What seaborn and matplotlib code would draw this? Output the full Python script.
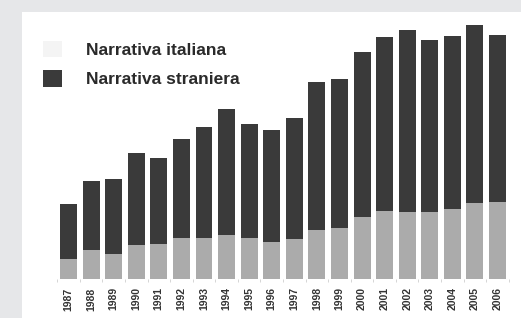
import pandas as pd
import matplotlib.pyplot as plt
import seaborn as sns
from matplotlib.patches import Patch
from matplotlib.ticker import FixedLocator

# Data (arbitrary units, y axis is hidden)
years = [str(y) for y in range(1987, 2007)]
italiana = [20, 29, 25, 34, 35, 41, 41, 44, 41, 37,
            40, 49, 51, 62, 68, 67, 67, 70, 76, 77]
straniera = [55, 69, 75, 92, 86, 99, 111, 126, 114, 112,
             121, 148, 149, 165, 174, 182, 172, 173, 178, 167]

totale = [a + b for a, b in zip(italiana, straniera)]
df = pd.DataFrame({"anno": years, "italiana": italiana, "totale": totale})

dark = "#3a3a3a"
light = "#ababab"

sns.set_theme(style="white")
plt.rcParams["font.family"] = ["Liberation Sans", "DejaVu Sans"]

fig = plt.figure(figsize=(5.21, 3.18), dpi=100)
fig.patch.set_facecolor("#e6e7e9")
ax = fig.add_axes([22 / 521, 0, 499 / 521, 306 / 318])
ax.set_facecolor("white")

# Total bar (dark) with the Italian share drawn over it (light)
sns.barplot(data=df, x="anno", y="totale", color=dark, width=0.75,
            linewidth=0, saturation=1, ax=ax)
sns.barplot(data=df, x="anno", y="italiana", color=light, width=0.75,
            linewidth=0, saturation=1, ax=ax)

ax.set_xlim(-2.06, 20.04)
ax.set_ylim(-39, 267)
ax.set_xlabel("")
ax.set_ylabel("")
ax.set_yticks([])
for s in ax.spines.values():
    s.set_visible(False)
ax.spines["bottom"].set_position(("data", 0))

ax.tick_params(axis="x", which="major", length=0, pad=6)
ax.xaxis.set_minor_locator(FixedLocator([i + 0.5 for i in range(-1, 20)]))
ax.tick_params(axis="x", which="minor", bottom=True, length=2, width=0.6,
               color="#cfcfcf")
for lab in ax.get_xticklabels():
    lab.set_rotation(90)
    lab.set_fontsize(7.5)
    lab.set_fontweight("bold")
    lab.set_color("#333333")

handles = [Patch(facecolor="#f4f4f4", edgecolor="none", label="Narrativa italiana"),
           Patch(facecolor=dark, edgecolor="none", label="Narrativa straniera")]
leg = fig.legend(handles=handles, loc="upper left",
                 bbox_to_anchor=(43 / 521, 1 - 41 / 318),
                 frameon=False, borderpad=0, borderaxespad=0,
                 handlelength=1.09, handleheight=1.05, handletextpad=1.38,
                 labelspacing=0.72, prop={"size": 12.5, "weight": "bold"})
for t in leg.get_texts():
    t.set_color("#2a2a2a")

plt.savefig("out.png", dpi=100, facecolor=fig.get_facecolor())
